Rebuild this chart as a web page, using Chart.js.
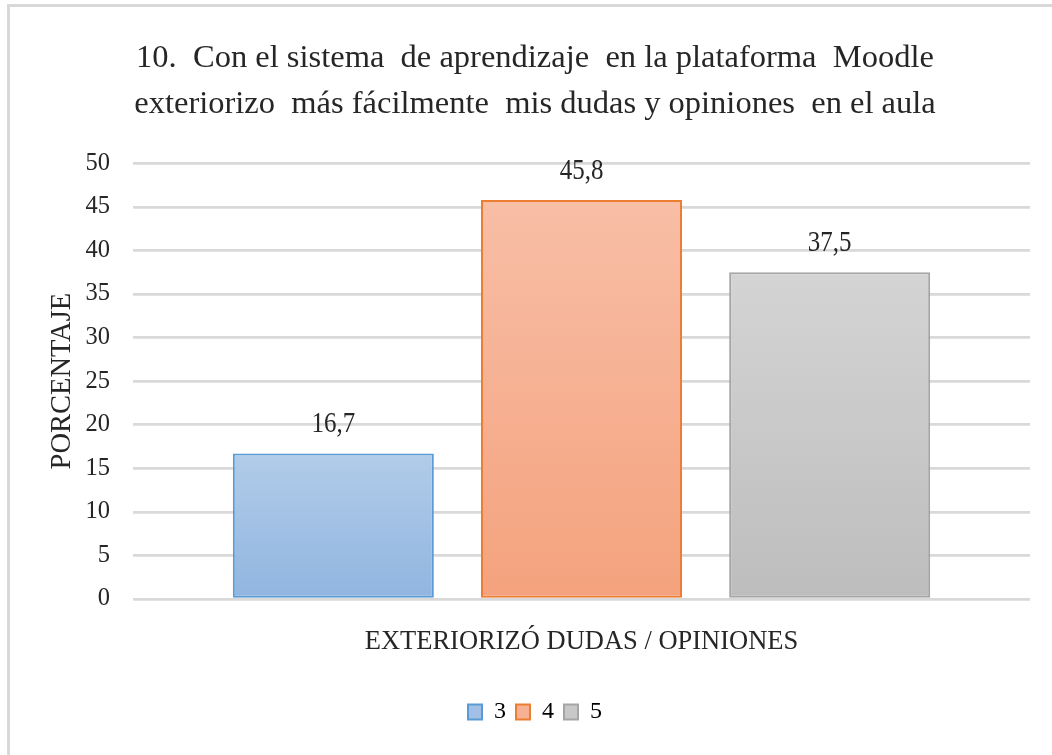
<!DOCTYPE html>
<html>
<head>
<meta charset="utf-8">
<script src="https://cdn.jsdelivr.net/npm/chart.js@4.4.1/dist/chart.umd.min.js"></script>
<style>
  html, body { margin: 0; padding: 0; background: #ffffff; }
  #frame { position: absolute; left: 7px; top: 4px; width: 1100px; height: 800px;
           border-top: 3px solid #d9d9d9; border-left: 3px solid #d9d9d9; }
  #wrap { position: absolute; left: 0; top: 0; width: 1052px; height: 755px; }
</style>
</head>
<body>
<div id="frame"></div>
<div id="wrap"><canvas id="c" width="1052" height="755"></canvas></div>
<script>
const titleLines = [
  '10.  Con el sistema  de aprendizaje  en la plataforma  Moodle',
  'exteriorizo  más fácilmente  mis dudas y opiniones  en el aula'
];
const categories = ['EXTERIORIZÓ DUDAS / OPINIONES'];
const seriesNames = ['3', '4', '5'];
const seriesValues = [[16.7], [45.8], [37.5]];
const yTitle = 'PORCENTAJE';
const yMin = 0, yMax = 50, yStep = 5;

const borderColors = ['#5b9bd5', '#ed7d31', '#a5a5a5'];
const gradTop = ['#b2cce9', '#f8bea6', '#d4d4d4'];
const gradBottom = ['#90b5e0', '#f4a27d', '#bdbdbd'];
const solidColors = ['#a2c0e5', '#f6b093', '#c8c8c8'];

const FONT = "'Liberation Serif', 'Times New Roman', serif";
const TEXT = '#262626';

function barFill(i) {
  return function (ctx) {
    const chart = ctx.chart;
    if (ctx.type !== 'data' || !chart.chartArea || !chart.scales.y) return solidColors[i];
    const ys = chart.scales.y;
    const yTop = ys.getPixelForValue(ctx.parsed ? ctx.parsed.y : ctx.raw);
    const yBase = ys.getPixelForValue(0);
    if (!isFinite(yTop) || !isFinite(yBase) || yTop === yBase) return solidColors[i];
    const g = chart.ctx.createLinearGradient(0, yTop, 0, yBase);
    g.addColorStop(0, gradTop[i]);
    g.addColorStop(1, gradBottom[i]);
    return g;
  };
}

const valueLabels = {
  id: 'valueLabels',
  afterDatasetsDraw(chart) {
    const ctx = chart.ctx;
    chart.data.datasets.forEach((ds, di) => {
      const meta = chart.getDatasetMeta(di);
      meta.data.forEach((el, idx) => {
        const v = ds.data[idx];
        ctx.save();
        ctx.translate(el.x, el.y - 21);
        ctx.scale(1, 1.18);
        ctx.font = '25px ' + FONT;
        ctx.fillStyle = TEXT;
        ctx.textAlign = 'center';
        ctx.textBaseline = 'alphabetic';
        ctx.fillText(v.toFixed(1).replace('.', ','), 0, 0);
        ctx.restore();
      });
    });
  }
};

const datasets = seriesNames.map((name, i) => ({
  label: name,
  data: seriesValues[i],
  backgroundColor: barFill(i),
  borderColor: borderColors[i],
  borderWidth: 2,
  borderSkipped: false,
  categoryPercentage: 0.83,
  barPercentage: 0.81
}));

new Chart(document.getElementById('c'), {
  type: 'bar',
  data: { labels: categories, datasets },
  plugins: [valueLabels],
  options: {
    responsive: false,
    animation: false,
    layout: { padding: { top: 10, left: 40, right: 22, bottom: 21 } },
    plugins: {
      title: {
        display: true,
        text: titleLines,
        color: TEXT,
        font: { family: FONT, size: 32.5, weight: 'normal', lineHeight: 1.42 },
        padding: { top: 25, bottom: 36 }
      },
      legend: {
        display: true,
        position: 'bottom',
        labels: {
          color: TEXT,
          font: { family: FONT, size: 24 },
          boxWidth: 14,
          boxHeight: 15,
          padding: 10,
          generateLabels(chart) {
            return chart.data.datasets.map((ds, i) => ({
              text: ds.label,
              fillStyle: solidColors[i],
              strokeStyle: borderColors[i],
              lineWidth: 2,
              hidden: false,
              datasetIndex: i
            }));
          }
        }
      },
      tooltip: { enabled: false }
    },
    scales: {
      x: {
        grid: { display: false, drawTicks: false },
        border: { display: false },
        ticks: { color: TEXT, font: { family: FONT, size: 26.5 }, padding: 27 },
        afterFit(scale) { scale.height = 91; }
      },
      y: {
        min: yMin,
        max: yMax,
        ticks: { stepSize: yStep, color: TEXT, font: { family: FONT, size: 24.5 }, padding: 23 },
        grid: { color: '#d9d9d9', lineWidth: 2.7, drawTicks: false },
        border: { display: false },
        title: {
          display: true,
          text: yTitle,
          color: TEXT,
          font: { family: FONT, size: 28.5 },
          padding: { top: 5, bottom: 0 }
        },
        afterFit(scale) { scale.width = 93; }
      }
    }
  }
});
</script>
</body>
</html>
